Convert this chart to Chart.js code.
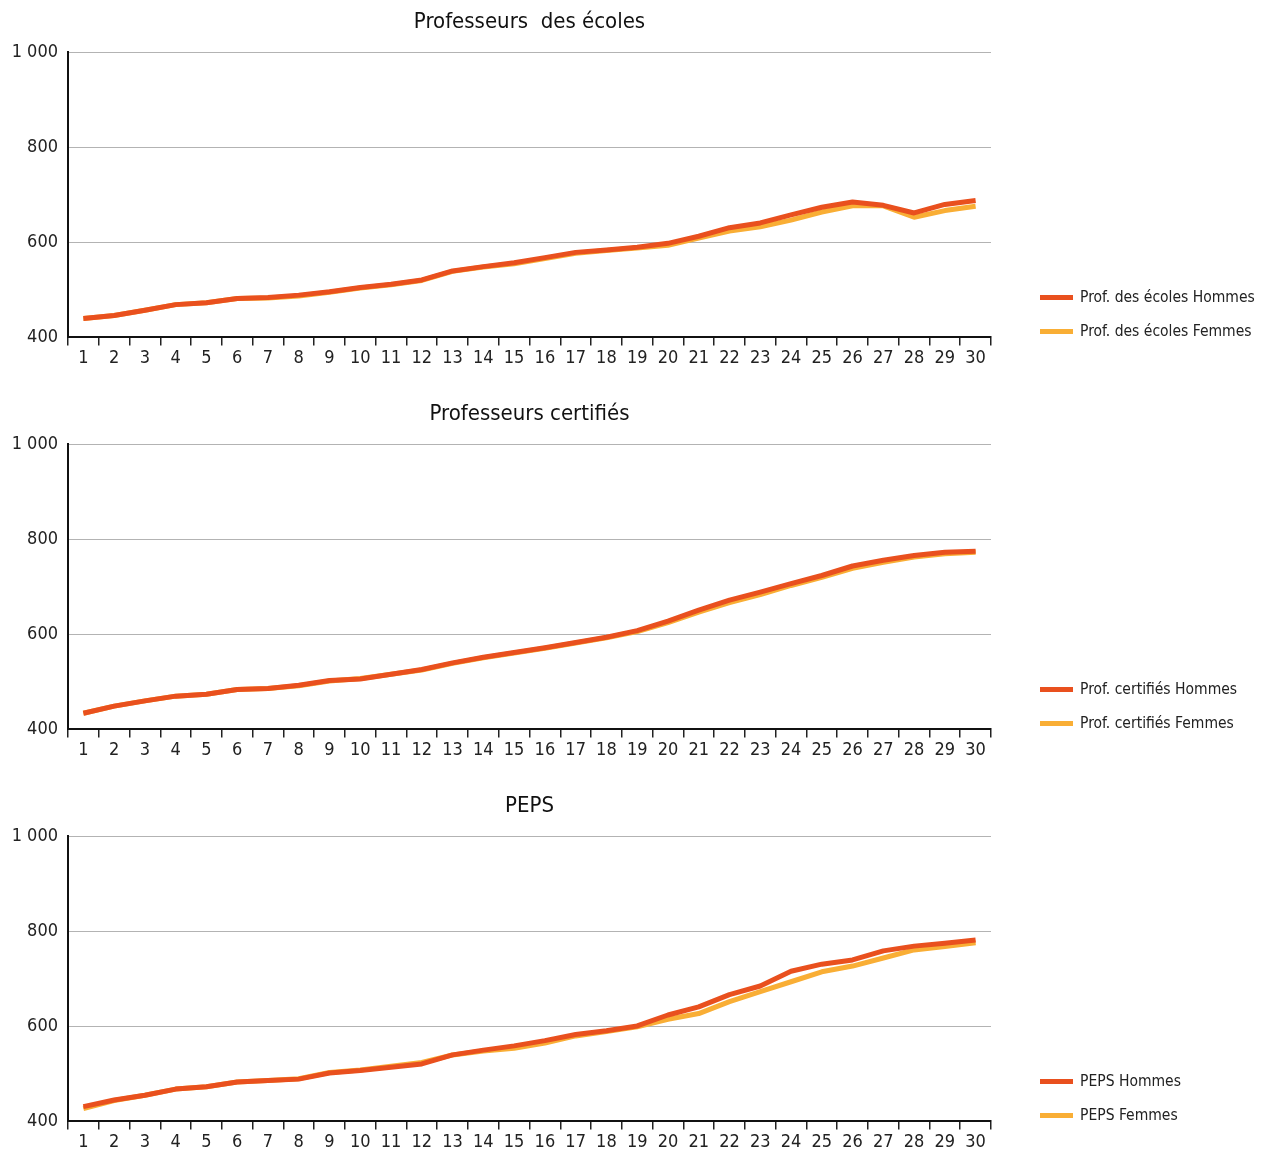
<!DOCTYPE html>
<html lang="fr">
<head>
    <meta charset="UTF-8">
    <title>Rémunérations par échelon</title>
    <script src="https://cdn.jsdelivr.net/npm/chart.js"></script>
    <style>
        body {
            margin: 0;
            width: 1266px;
            height: 1151px;
            overflow: hidden;
            background: #ffffff;
            font-family: "Liberation Sans Narrow", "DejaVu Sans Condensed", "Roboto", sans-serif;
        }
        .panel {
            position: absolute;
            left: 0;
            width: 1266px;
            height: 392px;
        }
        .legend {
            position: absolute;
            left: 1040px;
            font-size: 15.5px;
            color: #222;
        }
        .legend div {
            height: 34px;
            line-height: 34px;
            white-space: nowrap;
        }
        .legend span {
            display: inline-block;
            width: 33px;
            height: 5px;
            margin-right: 7px;
            vertical-align: middle;
        }
    </style>
</head>
<body>
    <div class="panel" style="top:0px"><canvas id="c1" width="1266" height="392"></canvas><div class="legend" id="l1" style="top:280px"></div></div>
    <div class="panel" style="top:392px"><canvas id="c2" width="1266" height="392"></canvas><div class="legend" id="l2" style="top:280px"></div></div>
    <div class="panel" style="top:784px"><canvas id="c3" width="1266" height="392"></canvas><div class="legend" id="l3" style="top:280px"></div></div>

    <script>
        const echelons = ['1','2','3','4','5','6','7','8','9','10','11','12','13','14','15',
                          '16','17','18','19','20','21','22','23','24','25','26','27','28','29','30'];

        const ecolesHommes = [440,446,457,469,473,482,484,489,496,505,512,521,540,549,557,568,579,584,590,598,613,631,641,658,674,685,678,662,680,688];
        const ecolesFemmes = [440,446,457,469,473,482,483,487,495,504,511,520,539,548,555,566,577,583,588,594,609,624,633,647,664,677,677,653,667,676];

        const certHommes = [434,449,460,470,474,484,486,493,503,506,516,526,540,552,562,572,583,594,608,628,651,672,689,707,724,744,756,766,773,775];
        const certFemmes = [434,449,460,470,474,484,486,492,502,507,516,525,539,551,561,571,582,593,606,625,647,667,684,703,720,739,752,763,770,773];

        const pepsHommes = [431,445,455,468,473,483,486,489,502,507,514,521,540,550,559,570,583,591,601,624,641,667,685,716,731,740,759,769,775,782];
        const pepsFemmes = [427,444,455,468,473,483,486,490,503,508,516,524,540,548,554,565,580,589,599,615,627,652,673,694,715,727,744,761,768,776];

        const colorHommes = '#e9501e';
        const colorFemmes = '#f9ae35';
        const fontFamily = '"Liberation Sans Narrow", "DejaVu Sans Condensed", "Roboto", sans-serif';

        function formatNumber(v) {
            return String(v).replace(/\B(?=(\d{3})+(?!\d))/g, ' ');
        }

        function makeChart(canvasId, legendId, title, labelH, hommes, labelF, femmes) {
            let ctx = document.getElementById(canvasId).getContext('2d');
            let chart = new Chart(ctx, {
                type: 'line',
                data: {
                    labels: echelons,
                    datasets: [
                        { label: labelH, data: hommes, borderColor: colorHommes, backgroundColor: colorHommes,
                          borderWidth: 5, pointRadius: 0, tension: 0, borderJoinStyle: 'round' },
                        { label: labelF, data: femmes, borderColor: colorFemmes, backgroundColor: colorFemmes,
                          borderWidth: 5, pointRadius: 0, tension: 0, borderJoinStyle: 'round' }
                    ]
                },
                options: {
                    responsive: false,
                    devicePixelRatio: 1,
                    animation: false,
                    layout: { padding: { left: 0, right: 275, top: 0, bottom: 21 } },
                    plugins: {
                        legend: { display: false },
                        tooltip: { enabled: false },
                        title: {
                            display: true,
                            text: title,
                            fullSize: false,
                            color: '#111',
                            font: { family: fontFamily, size: 22, weight: 'normal' },
                            padding: { top: 9, bottom: 17 }
                        }
                    },
                    scales: {
                        x: {
                            type: 'category',
                            offset: true,
                            grid: { offset: true, drawOnChartArea: false, drawTicks: true, tickLength: 8, color: '#222', lineWidth: 1.5 },
                            border: { color: '#111', width: 2 },
                            ticks: { color: '#222', padding: 2, maxRotation: 0, autoSkip: false,
                                     font: { family: fontFamily, size: 18 } }
                        },
                        y: {
                            min: 400,
                            max: 1000,
                            afterFit: function (scale) { scale.width = 68; },
                            ticks: { stepSize: 200, color: '#222', padding: 10,
                                     font: { family: fontFamily, size: 18 },
                                     callback: v => formatNumber(v) },
                            grid: { drawTicks: false, lineWidth: 1,
                                    color: c => c.tick && c.tick.value === 400 ? 'rgba(0,0,0,0)' : '#b3b3b3' },
                            border: { color: '#111', width: 2 }
                        }
                    }
                }
            });

            let legend = document.getElementById(legendId);
            chart.data.datasets.forEach(ds => {
                let row = document.createElement('div');
                let sw = document.createElement('span');
                sw.style.background = ds.borderColor;
                row.appendChild(sw);
                row.appendChild(document.createTextNode(ds.label));
                legend.appendChild(row);
            });
            return chart;
        }

        makeChart('c1', 'l1', 'Professeurs  des écoles', 'Prof. des écoles Hommes', ecolesHommes, 'Prof. des écoles Femmes', ecolesFemmes);
        makeChart('c2', 'l2', 'Professeurs certifiés', 'Prof. certifiés Hommes', certHommes, 'Prof. certifiés Femmes', certFemmes);
        makeChart('c3', 'l3', 'PEPS', 'PEPS Hommes', pepsHommes, 'PEPS Femmes', pepsFemmes);
    </script>
</body>
</html>
